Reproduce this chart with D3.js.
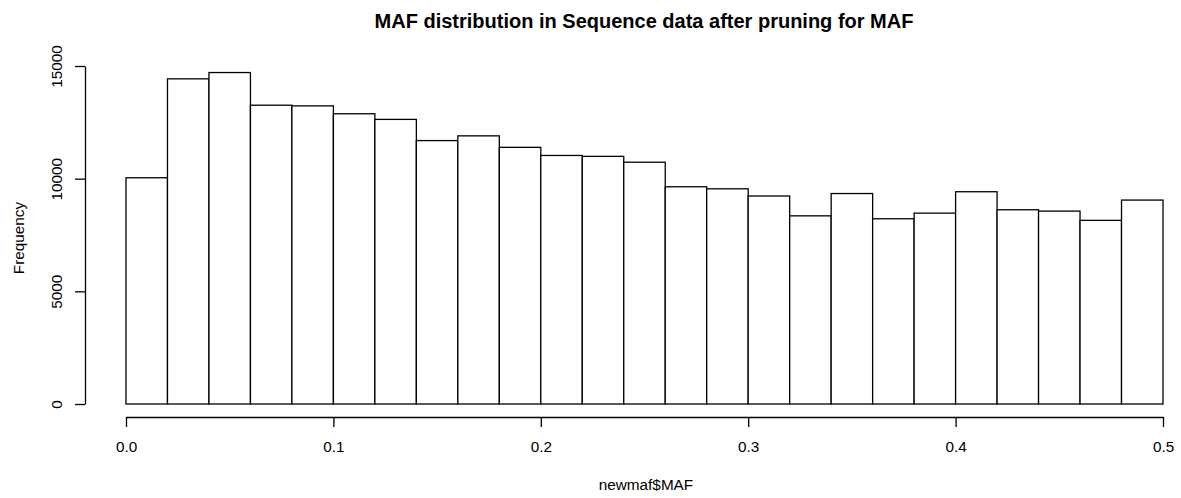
<!DOCTYPE html>
<html>
<head>
<meta charset="utf-8">
<script src="https://cdn.jsdelivr.net/npm/d3@7"></script>
<style>
  html, body { margin: 0; padding: 0; background: #fff; }
  svg { display: block; font-family: "Liberation Sans", Arial, Helvetica, sans-serif; }
</style>
</head>
<body>
<svg id="chart" width="1181" height="498"></svg>
<script>
// Bin edges (MAF), width 0.02
const binStarts = [0.00, 0.02, 0.04, 0.06, 0.08, 0.10, 0.12, 0.14, 0.16, 0.18,
                   0.20, 0.22, 0.24, 0.26, 0.28, 0.30, 0.32, 0.34, 0.36, 0.38,
                   0.40, 0.42, 0.44, 0.46, 0.48];
const binWidth = 0.02;
// Frequencies
const counts = [10040, 14430, 14710, 13260, 13230, 12880, 12630, 11690, 11900, 11390,
                11030, 10990, 10730, 9640, 9550, 9230, 8350, 9340, 8220, 8470,
                9420, 8620, 8560, 8150, 9050];
const xTicks = [0.0, 0.1, 0.2, 0.3, 0.4, 0.5];
const yTicks = [0, 5000, 10000, 15000];
const titleText = "MAF distribution in Sequence data after pruning for MAF";
const xLabel = "newmaf$MAF";
const yLabel = "Frequency";

const FONT = "Liberation Sans, Arial, Helvetica, sans-serif";
const svg = d3.select("#chart");
const x = d3.scaleLinear().domain([0, 0.5]).range([126, 1163]);
const y = d3.scaleLinear().domain([0, 15000]).range([404, 66]);

// Bars
svg.append("g").selectAll("rect")
  .data(binStarts.map((s, i) => ({ s, c: counts[i] })))
  .join("rect")
  .attr("x", d => x(d.s))
  .attr("y", d => y(d.c))
  .attr("width", d => x(d.s + binWidth) - x(d.s))
  .attr("height", d => y(0) - y(d.c))
  .attr("fill", "#fff")
  .attr("stroke", "#000")
  .attr("stroke-width", 1.3);

// X axis
const xAxis = svg.append("g").attr("transform", "translate(0,417)")
  .call(d3.axisBottom(x).tickValues(xTicks).tickSize(10).tickSizeOuter(0)
    .tickFormat(d3.format(".1f")));
xAxis.select(".domain").attr("stroke-width", 1.3);
xAxis.selectAll(".tick line").attr("stroke-width", 1.3);
xAxis.selectAll(".tick text")
  .attr("font-size", 15.3).attr("fill", "#000").attr("font-family", FONT)
  .attr("y", 35).attr("dy", null);

// Y axis
const yAxis = svg.append("g").attr("transform", "translate(85,0)")
  .call(d3.axisLeft(y).tickValues(yTicks).tickSize(10).tickSizeOuter(0).tickFormat(d3.format("d")));
yAxis.select(".domain").attr("stroke-width", 1.3);
yAxis.selectAll(".tick line").attr("stroke-width", 1.3);
yAxis.selectAll(".tick text")
  .attr("font-size", 15.3).attr("fill", "#000").attr("font-family", FONT)
  .attr("x", null).attr("dy", null)
  .attr("text-anchor", "middle")
  .attr("transform", "translate(-23,0) rotate(-90)");

// Title
svg.append("text")
  .attr("x", 644).attr("y", 27.5)
  .attr("text-anchor", "middle")
  .attr("font-size", 20).attr("font-weight", "bold")
  .text(titleText);

// Axis labels
svg.append("text")
  .attr("x", 646).attr("y", 490)
  .attr("text-anchor", "middle")
  .attr("font-size", 15.3)
  .text(xLabel);

svg.append("text")
  .attr("transform", "translate(23.5,238) rotate(-90)")
  .attr("text-anchor", "middle")
  .attr("font-size", 15.3)
  .text(yLabel);
</script>
</body>
</html>
